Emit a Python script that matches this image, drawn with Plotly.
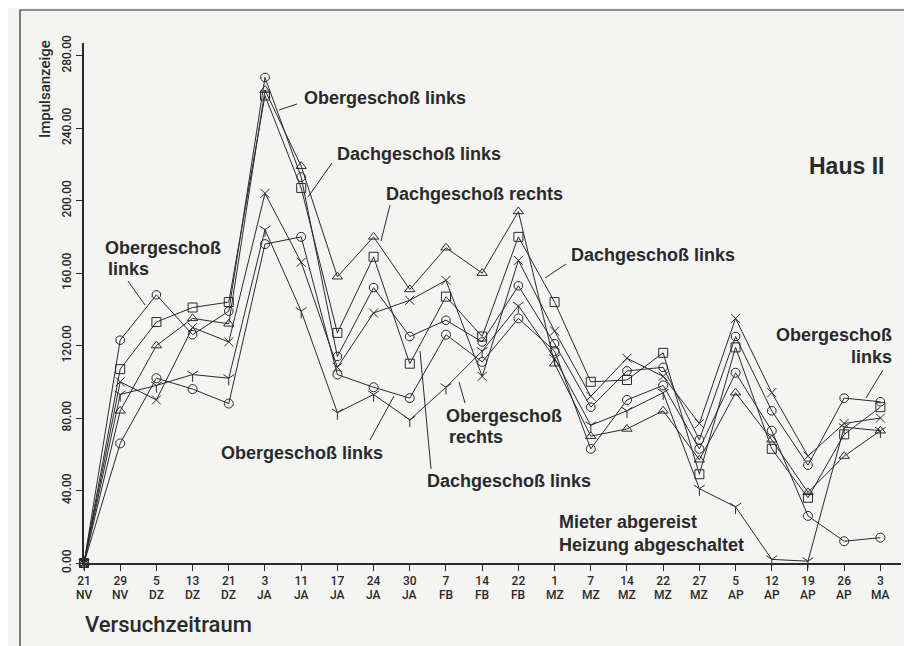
import plotly.graph_objects as go

day_labels = ["21", "29", "5", "13", "21", "3", "11", "17", "24", "30", "7", "14", "22", "1", "7", "14",
              "22", "27", "5", "12", "19", "26", "3"]
month_labels = ["NV", "NV", "DZ", "DZ", "DZ", "JA", "JA", "JA", "JA", "JA", "FB", "FB", "FB", "MZ", "MZ", "MZ",
                "MZ", "MZ", "AP", "AP", "AP", "AP", "MA"]

og_links = [0, 123, 148, 126, 139, 268, 213, 114, 152, 125, 134, 122, 153, 121, 86, 106, 108, 68, 125, 84, 54, 91, 89]
dg_links = [0, 107, 133, 141, 144, 258, 207, 127, 169, 110, 147, 125, 180, 144, 100, 101, 116, 49, 119, 63, 36, 71, 86]
dg_rechts = [0, 84, 120, 135, 132, 261, 219, 158, 180, 151, 174, 160, 194, 110, 70, 74, 84, 57, 94, 68, 39, 59, 73]
og_rechts = [0, 100, 90, 130, 122, 204, 166, 108, 138, 145, 156, 103, 167, 128, 92, 113, 103, 77, 135, 94, 59, 77, 80]
mieter = [0, 93, 98, 104, 102, 184, 139, 83, 93, 79, 97, 117, 142, 113, 76, 84, 94, 41, 31, 2, 1, 75, 73]
eg = [0, 66, 102, 96, 88, 176, 180, 104, 97, 91, 126, 111, 135, 117, 63, 90, 98, 63, 105, 73, 26, 12, 14]

y_ticks = [0, 40, 80, 120, 160, 200, 240, 280]
y_tick_text = ["0.00", "40.00", "80.00", "120.00", "160.00", "200.00", "240.00", "280.00"]

W, H = 912, 646
L, R, T, B = 76, 19, 35, 91
PW, PH = W - L - R, H - T - B
ink = "#2a2a2a"
font_lab = "Liberation Sans, Arial, sans-serif"
font_tick = "Roboto, Liberation Sans, Arial, sans-serif"


def px(x):
    return (x - L) / PW


def py(y):
    return (H - B - y) / PH


fig = go.Figure()
xs = list(range(len(day_labels)))
series = [
    (og_links, "octagon-open"),
    (dg_links, "square-open"),
    (dg_rechts, "triangle-up-open"),
    (og_rechts, "x-thin-open"),
    (mieter, "y-down-open"),
    (eg, "circle-open"),
]
for vals, sym in series:
    fig.add_trace(go.Scatter(
        x=xs, y=vals, mode="lines+markers",
        line=dict(color=ink, width=1),
        marker=dict(symbol=sym, size=9, color=ink, line=dict(color=ink, width=1)),
        cliponaxis=False, showlegend=False, hoverinfo="skip"))

annotations = []
shapes = []


def label(text, x, y, xanchor="left", size=18):
    annotations.append(dict(text=text, x=px(x), y=py(y), xref="paper", yref="paper",
                            xanchor=xanchor, yanchor="middle", showarrow=False,
                            font=dict(family=font_lab, size=size, color=ink, weight="bold")))


def pointer(x0, y0, x1, y1):
    shapes.append(dict(type="line", xref="paper", yref="paper", x0=px(x0), y0=py(y0),
                       x1=px(x1), y1=py(y1), line=dict(color=ink, width=1)))


label("Obergeschoß links", 294, 90)
pointer(289, 96, 271, 102)
label("Dachgeschoß links", 327, 146)
pointer(324, 155, 300, 189)
label("Dachgeschoß rechts", 376, 186)
pointer(382, 197, 373, 233)
label("Dachgeschoß links", 561, 247)
pointer(558, 256, 537, 270)
label("Obergeschoß", 95, 240)
label("links", 98, 261)
pointer(120, 273, 137, 297)
label("Obergeschoß links", 211, 445)
pointer(362, 432, 386, 388)
label("Obergeschoß", 436, 408)
label("rechts", 439, 429)
pointer(457, 395, 451, 374)
label("Dachgeschoß links", 417, 473)
pointer(423, 461, 412, 343)
label("Obergeschoß", 886, 327, xanchor="right")
label("links", 886, 349, xanchor="right")
pointer(875, 362, 858, 390)
label("Mieter abgereist", 549, 514)
label("Heizung abgeschaltet", 549, 537)
label("Haus II", 799, 158, size=23)

# month row of the x labels (second line under the day numbers)
for i, m in enumerate(month_labels):
    annotations.append(dict(text=m, x=i, y=py(587), xref="x", yref="paper", xanchor="center",
                            yanchor="middle", showarrow=False,
                            font=dict(family=font_tick, size=12, color=ink, weight=500)))

annotations.append(dict(text="Impulsanzeige", x=px(37), y=py(81), xref="paper", yref="paper",
                        textangle=-90, showarrow=False, xanchor="center", yanchor="middle",
                        font=dict(family=font_tick, size=15, color=ink, weight=500)))
annotations.append(dict(text="Versuchzeitraum", x=px(75), y=py(616), xref="paper", yref="paper",
                        showarrow=False, xanchor="left", yanchor="middle",
                        font=dict(family=font_tick, size=22, color=ink, weight=500)))

# outer frame
shapes.append(dict(type="rect", xref="paper", yref="paper", x0=px(12), x1=px(906), y0=py(2), y1=py(645),
                   line=dict(color=ink, width=1.2), fillcolor="rgba(0,0,0,0)", layer="below"))

fig.update_layout(
    width=W, height=H,
    margin=dict(l=L, r=R, t=T, b=B),
    paper_bgcolor="#f4f4f2", plot_bgcolor="#f4f4f2",
    annotations=annotations, shapes=shapes,
    xaxis=dict(range=[0, 22.57], tickvals=xs, ticktext=day_labels, showgrid=False, zeroline=False,
               showline=True, linecolor=ink, linewidth=1.5, ticks="outside", ticklen=6,
               tickcolor=ink, tickwidth=1.2,
               tickfont=dict(family=font_tick, size=12, color=ink, weight=500)),
    yaxis=dict(range=[0, 287], tickvals=y_ticks, ticktext=y_tick_text, showgrid=False, zeroline=False,
               showline=True, linecolor=ink, linewidth=1.5, ticks="outside", ticklen=6,
               tickcolor=ink, tickwidth=1.2, tickangle=-90,
               tickfont=dict(family=font_tick, size=12, color=ink, weight=500)),
)

fig.write_html("out.html")
